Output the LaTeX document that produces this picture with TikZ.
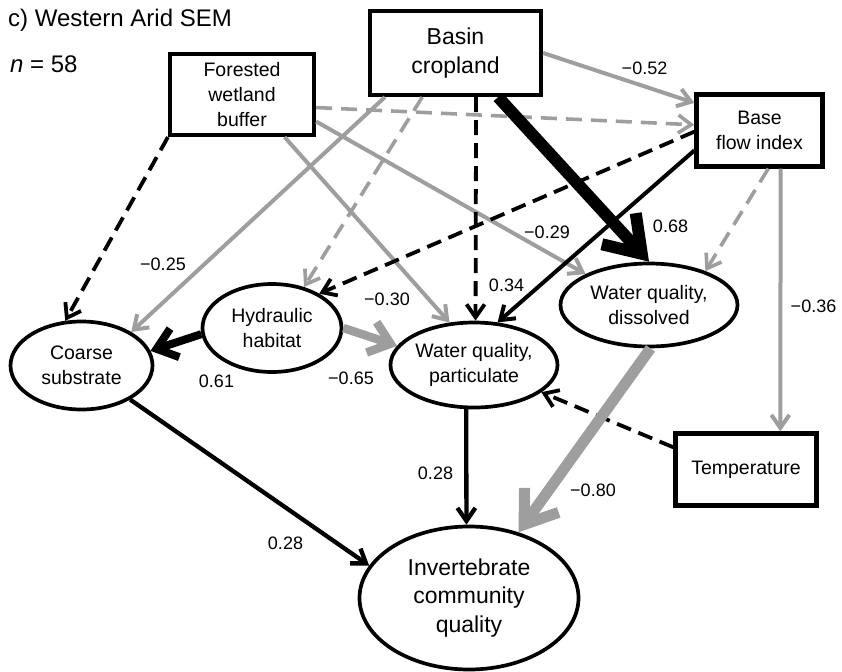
\documentclass[tikz,border=0pt]{standalone}
\usepackage{fontspec}
\setmainfont{Liberation Sans}
\usetikzlibrary{arrows.meta, shapes.geometric}
\definecolor{SEMgray}{HTML}{9E9E9E}
\newcommand{\semfont}{\fontsize{19.5}{25}\selectfont}
\newcommand{\bigsemfont}{\fontsize{23}{28.5}\selectfont}
\newcommand{\labfont}{\fontsize{18}{20}\selectfont}
\newcommand{\titlefont}{\fontsize{24}{28}\selectfont}

\begin{document}
\begin{tikzpicture}[x=1pt, y=-1pt,
   obsbox/.style={draw, rectangle, line width=4.2pt, align=center, inner sep=0pt, font=\semfont},
   latent/.style={draw, ellipse, line width=3.7pt, align=center, inner sep=0pt, font=\semfont},
   lab/.style={inner sep=0pt, font=\labfont},
   barbS/.style={-{Straight Barb[length=13pt, width=18pt]}},
   posline/.style={barbS, line width=4pt},
   negline/.style={barbS, SEMgray, line width=4pt},
   posdash/.style={barbS, line width=3.8pt, dash pattern=on 15pt off 8pt},
   negdash/.style={barbS, SEMgray, line width=3.6pt, dash pattern=on 16pt off 9pt}
]
   \useasboundingbox (0,0) rectangle (842,671);
   % Titles
   \node[anchor=base west, inner sep=0pt, font=\titlefont] (title) at (8,27) {c) Western Arid SEM};
   \node[anchor=base west, inner sep=0pt, font=\titlefont] (nobs) at (10,73) {\itshape n\upshape{} = 58};
   % Observed variables
   \node[obsbox, minimum width=144pt, minimum height=81pt] (forest) at (242,94.5) {Forested\\wetland\\buffer};
   \node[obsbox, font=\bigsemfont, minimum width=171pt, minimum height=84pt] (basin) at (455.5,53) {Basin\\cropland};
   \node[obsbox, minimum width=126pt, minimum height=72pt] (bfi) at (759.5,130.5) {Base\\flow index};
   \node[obsbox, minimum width=141pt, minimum height=72pt] (temp) at (746,469.5) {Temperature};
   % Latent variables
   \node[latent, minimum width=142pt, minimum height=88pt] (coarse) at (81.5,365.5) {Coarse\\substrate};
   \node[latent, minimum width=139pt, minimum height=88pt] (hydr) at (272,328) {Hydraulic\\habitat};
   \node[latent, minimum width=167pt, minimum height=85pt] (wqp) at (474,365) {Water quality,\\particulate};
   \node[latent, minimum width=177pt, minimum height=83pt] (wqd) at (649,305) {Water quality,\\dissolved};
   \node[latent, font=\bigsemfont, minimum width=219pt, minimum height=143pt] (inv) at (469,598) {Invertebrate\\community\\quality};
   % Paths from the landscape drivers
   \draw[posdash] (forest.south west) -- (coarse.110);
   \draw[negline] (basin.212) -- (coarse.34);
   \draw[negline] (forest.-45) -- (wqp.120);
   \draw[negline] (forest.-20) -- (wqd.154);
   \draw[negdash] (forest.-10) -- (bfi.175);
   \draw[negline] (basin.east) -- (bfi.157);
   \draw[negdash] (basin.233) -- (hydr.52);
   \draw[posdash] (basin.-65) -- (wqp.88);
   \draw[line width=12pt, -{Straight Barb[length=34pt, width=46pt]}] (basin.-46) -- (wqd.90);
   % Paths from base flow index
   \draw[posdash] (bfi.181) -- (hydr.36);
   \draw[posline] (bfi.197) -- (wqp.61);
   \draw[negdash] (bfi.-77) -- (wqd.31);
   \draw[negline] (bfi.-61) -- (temp.48);
   % Paths among the habitat variables
   \draw[line width=8pt, -{Straight Barb[length=19pt, width=30pt]}] (hydr.185) -- (coarse.12);
   \draw[SEMgray, line width=8.5pt, -{Straight Barb[length=20pt, width=32pt]}] (hydr.0) -- (wqp.166);
   \draw[posdash] (temp.163) -- (wqp.-22);
   % Paths to the invertebrates
   \draw[SEMgray, line width=11pt, -{Straight Barb[length=30pt, width=42pt]}] (wqd.-88) -- (inv.53);
   \draw[posline, line width=4.3pt] (wqp.-100) -- (inv.92);
   \draw[posline, line width=4.3pt] (coarse.-35) -- (inv.162);
   % Coefficients
   \node[lab] (c025) at (163,264) {−0.25};
   \node[lab] (c030) at (387,299) {−0.30};
   \node[lab] (c029) at (547,232) {−0.29};
   \node[lab] (c052) at (644.5,68.5) {−0.52};
   \node[lab] (c068) at (670.5,226.5) {0.68};
   \node[lab] (c034) at (506.5,285) {0.34};
   \node[lab] (c036) at (813.5,306.5) {−0.36};
   \node[lab] (c061) at (216.5,381.5) {0.61};
   \node[lab] (c065) at (351,378.5) {−0.65};
   \node[lab] (c028a) at (435.5,473.5) {0.28};
   \node[lab] (c080) at (593,490) {−0.80};
   \node[lab] (c028b) at (285.5,543.5) {0.28};
\end{tikzpicture}
\end{document}
